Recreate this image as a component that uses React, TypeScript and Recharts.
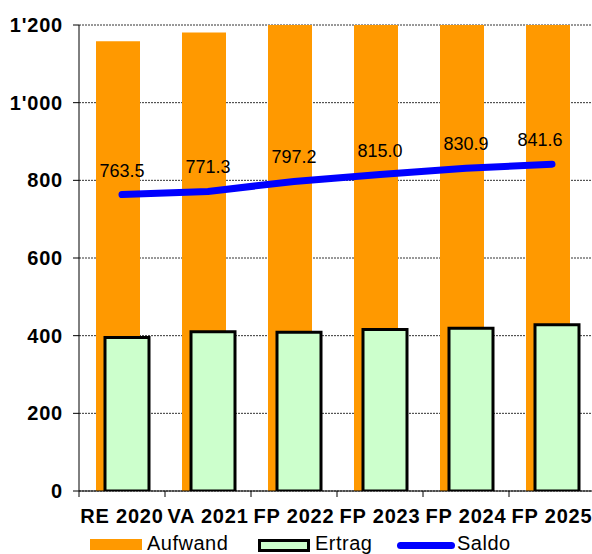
import { Bar, CartesianGrid, ComposedChart, LabelList, Legend, Line, XAxis, YAxis } from 'recharts';

const categories = ['RE 2020', 'VA 2021', 'FP 2022', 'FP 2023', 'FP 2024', 'FP 2025'];
const aufwand = [1158, 1181, 1206, 1231, 1250, 1269];
const ertrag = [395, 410, 409, 416, 419, 428];
const saldo = [763.5, 771.3, 797.2, 815.0, 830.9, 841.6];
const yTicks = [0, 200, 400, 600, 800, 1000, 1200];

const data = categories.map((name, i) => ({
  name,
  aufwand: aufwand[i],
  ertrag: ertrag[i],
  saldo: saldo[i],
}));

const FONT = '"Liberation Sans", Arial, sans-serif';
const HALF_BAND = 43;

const fmtThousands = (v: number) =>
  v >= 1000 ? `${Math.floor(v / 1000)}'${String(v % 1000).padStart(3, '0')}` : String(v);

function XTick({ x, y, payload }: any) {
  return (
    <g>
      <line x1={x - HALF_BAND} y1={491} x2={x - HALF_BAND} y2={497} stroke="#000" strokeWidth={1} />
      <text
        x={x}
        y={y}
        dy="0.71em"
        textAnchor="middle"
        fontSize={20}
        fontWeight="bold"
        fontFamily={FONT}
        letterSpacing={0.8}
        fill="#000"
      >
        {payload.value}
      </text>
    </g>
  );
}

function YTick({ x, y, payload }: any) {
  return (
    <text
      x={x + 1}
      y={y}
      dy="0.355em"
      textAnchor="end"
      fontSize={20}
      fontWeight="bold"
      fontFamily={FONT}
      letterSpacing={0.8}
      fill="#000"
    >
      {fmtThousands(payload.value)}
    </text>
  );
}

function SaldoLabel({ x, y, value, index }: any) {
  const last = index === saldo.length - 1;
  return (
    <text x={x + (last ? -12 : 0)} y={y - 18} textAnchor="middle" fontSize={18} fontFamily={FONT} fill="#000">
      {Number(value).toFixed(1)}
    </text>
  );
}

function LegendBox() {
  const text = {
    position: 'absolute' as const,
    top: 0,
    fontSize: 20,
    lineHeight: '22px',
    fontFamily: FONT,
    letterSpacing: 0.5,
    color: '#000',
  };
  return (
    <div style={{ position: 'relative', height: 22, width: 595 }}>
      <div style={{ position: 'absolute', left: 90, top: 7, width: 52, height: 11, background: '#FF9900' }} />
      <span style={{ ...text, left: 147 }}>Aufwand</span>
      <div
        style={{
          position: 'absolute',
          left: 258,
          top: 7,
          width: 52,
          height: 13,
          background: '#CCFFCC',
          border: '3px solid #000',
          boxSizing: 'border-box',
        }}
      />
      <span style={{ ...text, left: 315 }}>Ertrag</span>
      <div style={{ position: 'absolute', left: 397, top: 10, width: 58, height: 7, borderRadius: 4, background: '#0000FF' }} />
      <span style={{ ...text, left: 457 }}>Saldo</span>
    </div>
  );
}

export default function App() {
  return (
    <div style={{ position: 'absolute', left: 0, top: 0, width: 592, height: 554, overflow: 'hidden', background: '#fff' }}>
      <ComposedChart
        width={596}
        height={554}
        data={data}
        margin={{ top: 25, right: 1, left: 0, bottom: 0 }}
        barSize={44}
        barGap={-35}
      >
        <CartesianGrid vertical={false} stroke="#333" strokeDasharray="2 1" />
        <XAxis
          dataKey="name"
          height={41}
          axisLine={{ stroke: '#000', strokeWidth: 1 }}
          tickLine={false}
          tickSize={0}
          tickMargin={18}
          tick={<XTick />}
          interval={0}
        />
        <YAxis
          width={79}
          domain={[0, 1200]}
          ticks={yTicks}
          allowDataOverflow
          axisLine={{ stroke: '#000', strokeWidth: 1 }}
          tickLine={{ stroke: '#000' }}
          tickSize={6}
          tickMargin={11}
          tick={<YTick />}
        />
        <Bar dataKey="aufwand" name="Aufwand" fill="#FF9900" isAnimationActive={false} />
        <Bar dataKey="ertrag" name="Ertrag" fill="#CCFFCC" stroke="#000" strokeWidth={3} isAnimationActive={false} />
        <Line
          dataKey="saldo"
          name="Saldo"
          type="linear"
          stroke="#0000FF"
          strokeWidth={7}
          strokeLinecap="round"
          dot={false}
          activeDot={false}
          isAnimationActive={false}
        >
          <LabelList dataKey="saldo" content={<SaldoLabel />} />
        </Line>
        <Legend verticalAlign="bottom" content={<LegendBox />} />
      </ComposedChart>
    </div>
  );
}
